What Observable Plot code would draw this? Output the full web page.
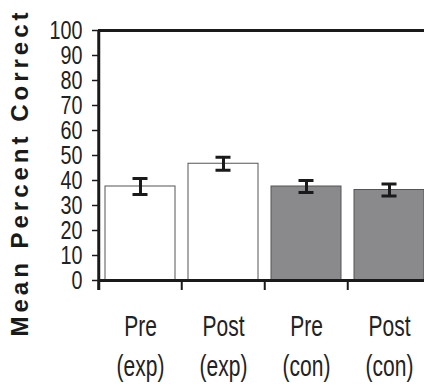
<!DOCTYPE html>
<html>
<head>
<meta charset="utf-8">
<script src="https://cdn.jsdelivr.net/npm/d3@7"></script>
<script src="https://cdn.jsdelivr.net/npm/@observablehq/plot@0.6"></script>
<style>
  html, body { margin: 0; padding: 0; background: #fff; }
</style>
</head>
<body>
<div id="chart"></div>
<script>
const categories = ["Pre\n(exp)", "Post\n(exp)", "Pre\n(con)", "Post\n(con)"];
const groups = ["exp", "exp", "con", "con"];
const means = [37.6, 46.7, 37.6, 36.2];
const errors = [3.2, 2.6, 2.4, 2.4];
const yTicks = [0, 10, 20, 30, 40, 50, 60, 70, 80, 90, 100];
const yTitle = "Mean Percent Correct";

const data = categories.map((c, i) => ({cat: c, group: groups[i], mean: means[i], err: errors[i]}));

const sans = "'Liberation Sans', Arial, sans-serif";
const step = (431 - 97) / categories.length;

const plot = Plot.plot({
  width: 424,
  height: 385,
  marginLeft: 98,
  marginRight: 0,
  marginTop: 30,
  marginBottom: 105,
  style: {background: "#fff", color: "#222"},
  x: {domain: categories, range: [97, 431], paddingInner: 0.16, paddingOuter: 0.08},
  y: {domain: [0, 100], range: [280, 30]},
  color: {domain: ["exp", "con"], range: ["#ffffff", "#8a8a8c"]},
  marks: [
    Plot.barY(data, {x: "cat", y: "mean", fill: "group", stroke: "#555", strokeWidth: 1}),
    Plot.ruleX(data, {x: "cat", y1: d => d.mean - d.err, y2: d => d.mean + d.err, stroke: "#1a1a1a", strokeWidth: 3}),
    Plot.tickY(data, {x: "cat", y: d => d.mean - d.err, stroke: "#1a1a1a", strokeWidth: 3, insetLeft: 27.5, insetRight: 27.5}),
    Plot.tickY(data, {x: "cat", y: d => d.mean + d.err, stroke: "#1a1a1a", strokeWidth: 3, insetLeft: 27.5, insetRight: 27.5}),
    Plot.ruleY([0], {stroke: "#1a1a1a", strokeWidth: 3}),
    Plot.ruleY([100], {stroke: "#1a1a1a", strokeWidth: 3}),
    Plot.ruleX(categories, {x: d => d, y1: 0, y2: -4, dx: -step / 2, stroke: "#1a1a1a", strokeWidth: 2}),
    Plot.ruleX(categories.slice(0, 1), {x: d => d, y1: -4, y2: 100, dx: -step / 2, stroke: "#1a1a1a", strokeWidth: 3}),
    Plot.axisY({ticks: yTicks, tickSize: 6, tickPadding: 10, label: null, stroke: "#1a1a1a",
      fontSize: 25, fontFamily: sans, strokeWidth: 1.5}),
    Plot.axisX({tickSize: 0, tickPadding: 27, label: null, fontSize: 30, fontFamily: sans, lineHeight: 1.33}),
    Plot.text([yTitle], {frameAnchor: "left", text: d => d, rotate: -90, dx: -78, dy: 17, textAnchor: "middle",
      fontSize: 24, fontWeight: "bold", fontFamily: sans, fill: "#1a1a1a"})
  ]
});

const svg = d3.select(plot);
svg.selectAll("text").filter(function() { return this.textContent === yTitle; })
  .attr("letter-spacing", 4);

// condensed look of the original tick labels
function squeeze(sel, k) {
  sel.each(function() {
    const t = this.getAttribute("transform") || "";
    this.setAttribute("transform", t + ` scale(${k},1)`);
  });
}
squeeze(svg.selectAll("g[aria-label='y-axis tick label'] text"), 0.79);
squeeze(svg.selectAll("g[aria-label='x-axis tick label'] text"), 0.7);

document.getElementById("chart").appendChild(plot);
</script>
</body>
</html>
